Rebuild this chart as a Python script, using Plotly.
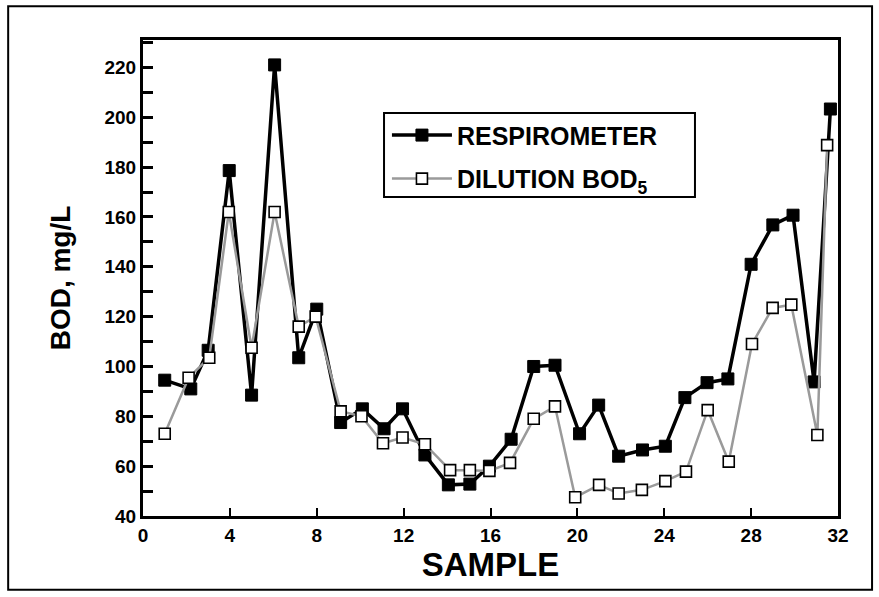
import plotly.graph_objects as go

# Sample positions
resp_x = [1.0, 2.2, 3.0, 3.97, 5.0, 6.06, 7.17, 8.0, 9.1, 10.1, 11.1, 11.95, 12.98, 14.06,
          15.05, 15.95, 16.95, 17.99, 18.97, 20.1, 20.98, 21.9, 23.0, 24.05, 24.95, 25.97,
          26.93, 28.0, 29.0, 29.93, 30.9, 31.65]
resp_y = [94.5, 91, 106.5, 178.6, 88.5, 221, 103.5, 123, 77.5, 83, 75, 83, 64.5, 52.5,
          52.8, 60, 70.8, 100, 100.5, 73, 84.5, 64, 66.5, 68, 87.5, 93.5,
          95, 141, 156.8, 160.7, 93.8, 203.3]

dil_x = [1.0, 2.1, 3.05, 3.95, 5.0, 6.06, 7.17, 7.95, 9.1, 10.06, 11.05, 11.95, 12.98, 14.14,
         15.05, 15.95, 16.9, 17.99, 18.97, 19.9, 21.0, 21.9, 22.97, 24.05, 25.0, 26.0,
         26.97, 28.04, 28.99, 29.85, 31.05, 31.5]
dil_y = [73, 95.5, 103.5, 162, 107.5, 162, 116, 120, 82, 80, 69.2, 71.5, 68.8, 58.4,
         58.4, 58.1, 61.3, 79, 84, 47.5, 52.5, 49, 50.5, 54, 57.8, 82.5,
         61.8, 109, 123.5, 124.8, 72.5, 188.8]

x_ticks = [0, 4, 8, 12, 16, 20, 24, 28, 32]
y_ticks = [40, 60, 80, 100, 120, 140, 160, 180, 200, 220]

FONT = "Arial, Liberation Sans, Helvetica, sans-serif"

fig = go.Figure()
fig.add_trace(go.Scatter(
    x=resp_x, y=resp_y, mode="lines+markers", name="RESPIROMETER",
    line=dict(color="black", width=3.5),
    marker=dict(symbol="square", size=12, color="black", line=dict(color="black", width=1)),
    legendgroup="a",
))
fig.add_trace(go.Scatter(
    x=dil_x, y=dil_y, mode="lines+markers", name="DILUTION BOD<sub>5</sub>",
    line=dict(color="#9a9a9a", width=2.5),
    marker=dict(symbol="square", size=11, color="white", line=dict(color="black", width=1.6)),
    legendgroup="b",
))

fig.update_layout(
    width=879, height=597,
    margin=dict(l=143, r=41, t=40, b=81),
    paper_bgcolor="white", plot_bgcolor="white",
    font=dict(family=FONT, color="black"),
    showlegend=True,
    legend=dict(
        x=0.351, y=0.848, xanchor="left", yanchor="top",
        bgcolor="rgba(0,0,0,0)", borderwidth=0,
        font=dict(family=FONT, size=25, color="black", weight="bold"),
        tracegroupgap=8, itemwidth=60,
    ),
    xaxis=dict(
        range=[0, 32], tickvals=x_ticks, ticktext=[str(v) for v in x_ticks],
        showgrid=False, zeroline=False,
        showline=True, linecolor="black", linewidth=3, mirror=True,
        ticks="inside", ticklen=8, tickwidth=2, tickcolor="black",
        tickfont=dict(family=FONT, size=19, color="black", weight="bold"),
        title=dict(text="SAMPLE", standoff=2,
                   font=dict(family=FONT, size=33, color="black", weight="bold")),
    ),
    yaxis=dict(
        range=[40, 231], tickvals=y_ticks, ticktext=[str(v) for v in y_ticks],
        showgrid=False, zeroline=False,
        showline=True, linecolor="black", linewidth=3, mirror=True,
        ticks="inside", ticklen=10, tickwidth=2.5, tickcolor="black",
        minor=dict(dtick=10, ticks="inside", ticklen=10, tickwidth=2.5, tickcolor="black"),
        tickfont=dict(family=FONT, size=19, color="black", weight="bold"),
        title=dict(text="BOD, mg/L", standoff=26,
                   font=dict(family=FONT, size=28, color="black", weight="bold")),
    ),
    shapes=[
        dict(type="rect", xref="paper", yref="paper",
             x0=-0.194, x1=1.049, y0=-0.155, y1=1.071,
             line=dict(color="black", width=2), fillcolor="rgba(0,0,0,0)", layer="below"),
        # legend frame
        dict(type="rect", xref="paper", yref="paper",
             x0=0.3468, x1=0.7942, y0=0.6702, y1=0.8466,
             line=dict(color="black", width=2), fillcolor="white", layer="above"),
    ],
)

fig.write_html("out.html")
